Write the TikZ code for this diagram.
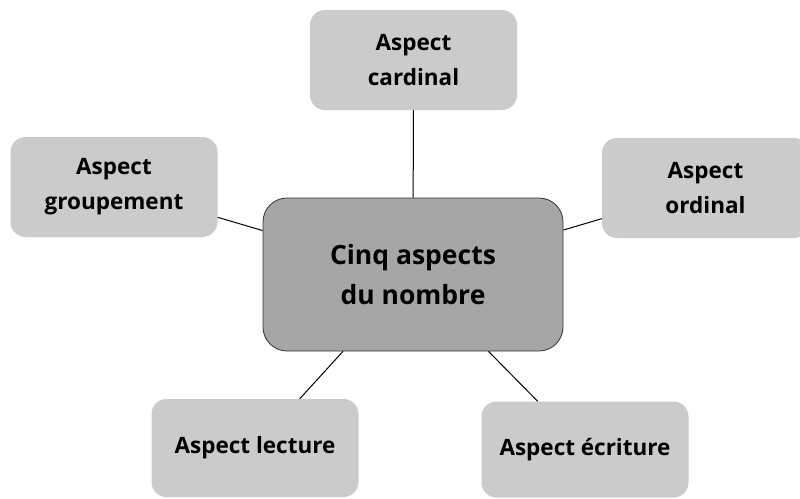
\documentclass[tikz,border=0pt]{standalone}
\usepackage{fontspec}
\setmainfont{Open Sans}
\begin{document}
\begin{tikzpicture}[x=1pt,y=-1pt,
  aspectbox/.style={fill=boxgray, rounded corners=15pt, minimum width=207pt,
    minimum height=100pt, align=center, font=\fontsize{22.5}{35}\selectfont\bfseries,
    inner sep=0pt},
  hubbox/.style={fill=hubgray, draw=black!80, line width=0.8pt, rounded corners=24pt,
    minimum width=300pt, minimum height=153pt, align=center,
    font=\fontsize{26.5}{40}\selectfont\bfseries, inner sep=0pt},
  link/.style={draw=black, line width=1pt}]
\definecolor{boxgray}{HTML}{CBCBCB}
\definecolor{hubgray}{HTML}{A6A6A6}
\useasboundingbox (0,0) rectangle (800,498);
\begin{scope}
\clip (0,0) rectangle (800,498);
\node[hubbox] (hub) at (413,274.5) {Cinq aspects\\du nombre};
\node[aspectbox] (card) at (413.5,60) {Aspect\\cardinal};
\node[aspectbox] (group) at (114,187) {Aspect\\groupement};
\node[aspectbox] (ord) at (705.5,188) {Aspect\\ordinal};
\node[aspectbox, minimum height=98pt] (lect) at (255,448) {Aspect lecture};
\node[aspectbox, minimum height=96pt] (ecr) at (585,449.5) {Aspect écriture};
\end{scope}
\path[link] (hub) -- (card);
\path[link] (hub) -- (group);
\path[link] (hub) -- (ord);
\path[link] (hub) -- (lect);
\path[link] (hub) -- (ecr);
\end{tikzpicture}
\end{document}
